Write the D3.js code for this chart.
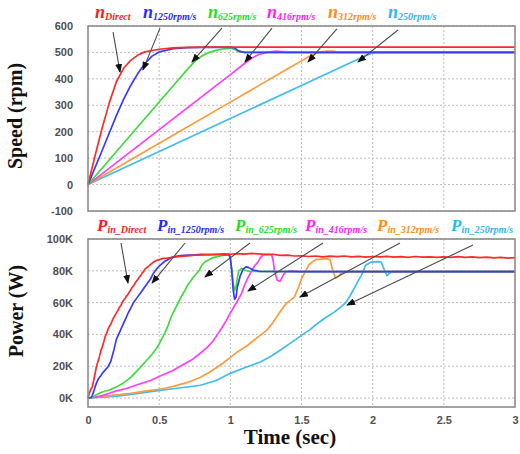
<!DOCTYPE html>
<html><head><meta charset="utf-8">
<script src="https://cdn.jsdelivr.net/npm/d3@7"></script>
<style>body{margin:0;background:#fff}</style></head>
<body>
<svg id="c" width="520" height="454"></svg>
<script>
// ---------- data ----------
const timeTicks = [0, 0.5, 1, 1.5, 2, 2.5, 3];
const timeTickLabels = ["0", "0.5", "1", "1.5", "2", "2.5", "3"];
const speedTicks = [-100, 0, 100, 200, 300, 400, 500, 600];
const powerTicks = [0, 20000, 40000, 60000, 80000, 100000];
const powerTickLabels = ["0K", "20K", "40K", "60K", "80K", "100K"];
const seriesKeys = ["Direct", "1250rpm/s", "625rpm/s", "416rpm/s", "312rpm/s", "250rpm/s"];

// speed [t(s), rpm]
const speedDirect = [[0,0],[0.05,110],[0.1,215],[0.15,310],[0.2,390],[0.25,440],[0.3,470],[0.35,490],[0.4,502],[0.5,512],[0.6,517],[0.7,519],[0.8,520],[1.0,520],[1.5,520],[2,520],[3,520]];
const speed1250 = [[0,0],[0.1,130],[0.2,262],[0.25,322],[0.3,375],[0.35,420],[0.4,458],[0.45,486],[0.5,502],[0.6,514],[0.7,518],[0.8,519],[1.0,520],[1.03,517],[1.06,505],[1.1,500],[1.5,500],[2,500],[3,500]];
const speed625 = [[0,0],[0.2,125],[0.4,250],[0.6,375],[0.7,437],[0.75,466],[0.8,487],[0.85,500],[0.9,508],[0.95,513],[1.0,516],[1.03,512],[1.06,503],[1.1,500],[2,500],[3,500]];
const speed416 = [[0,0],[0.4,166],[0.8,333],[1.0,416],[1.1,458],[1.15,478],[1.2,492],[1.25,499],[1.28,502],[1.32,505],[1.36,503],[1.4,500],[2,500],[3,500]];
const speed312 = [[0,0],[0.5,156],[1.0,312],[1.4,437],[1.5,468],[1.55,484],[1.6,496],[1.63,500],[1.68,505],[1.72,505],[1.76,500],[2,500],[3,500]];
const speed250 = [[0,0],[0.5,125],[1.0,250],[1.5,375],[1.9,475],[1.95,488],[2.0,498],[2.03,500],[2.5,500],[3,500]];

// power [t(s), W]
const powerDirect = [[0,0],[0.01,3000],[0.02,5500],[0.03,7000],[0.04,11000],[0.05,15500],[0.06,20000],[0.07,23000],[0.08,26000],[0.09,29500],[0.1,32000],[0.11,35000],[0.12,38500],[0.13,40500],[0.14,43000],[0.15,45000],[0.16,46500],[0.17,48500],[0.18,50500],[0.19,52000],[0.2,53500],[0.21,55000],[0.22,57000],[0.23,58000],[0.24,60000],[0.25,61500],[0.26,62500],[0.27,64000],[0.28,65000],[0.29,66500],[0.3,68000],[0.31,69500],[0.32,70500],[0.33,72000],[0.34,73500],[0.35,74500],[0.36,76000],[0.37,77000],[0.38,78500],[0.39,79500],[0.4,81000],[0.42,82500],[0.44,84000],[0.46,85500],[0.48,86500],[0.5,87000],[0.53,87800],[0.56,88000],[0.6,88600],[0.65,89000],[0.7,89400],[0.75,89800],[0.8,90000],[0.85,90300],[0.9,90200],[0.95,90600],[1.0,90400],[1.05,90800],[1.1,90500],[1.15,90900],[1.2,90600],[1.25,90200],[1.3,90400],[1.35,89700],[1.4,89800],[1.45,89300],[1.5,89400],[1.55,89000],[1.6,89300],[1.65,88800],[1.7,89200],[1.75,88900],[1.8,89300],[1.85,88700],[1.9,89100],[1.95,88600],[2.0,89000],[2.05,88700],[2.1,89100],[2.15,88600],[2.2,88900],[2.25,88500],[2.3,89000],[2.35,88600],[2.4,88800],[2.45,88400],[2.5,88800],[2.55,88500],[2.6,88900],[2.65,88400],[2.7,88700],[2.75,88300],[2.8,88600],[2.85,88100],[2.9,88500],[2.95,88000],[3.0,88300]];
const power1250 = [[0,0],[0.02,200],[0.03,1500],[0.04,4000],[0.05,7000],[0.06,9500],[0.07,11500],[0.08,13000],[0.09,14000],[0.1,15500],[0.12,17500],[0.14,19500],[0.16,23000],[0.18,29500],[0.2,37000],[0.22,41000],[0.24,45000],[0.26,49000],[0.28,53000],[0.3,56500],[0.32,60000],[0.34,62500],[0.36,65000],[0.38,67500],[0.4,70000],[0.42,72500],[0.44,75000],[0.46,78500],[0.48,81000],[0.5,83000],[0.52,84500],[0.54,86000],[0.56,87000],[0.58,88000],[0.6,88800],[0.65,89500],[0.7,89800],[0.75,90000],[0.8,90300],[0.85,90100],[0.9,90400],[0.95,90200],[0.99,90300],[1.0,88000],[1.01,80000],[1.02,68000],[1.03,62000],[1.04,63500],[1.05,70000],[1.07,77000],[1.09,81000],[1.11,82500],[1.13,82000],[1.16,80500],[1.2,79700],[1.5,79500],[2,79500],[2.5,79500],[3,79500]];
const power625 = [[0,0],[0.03,300],[0.05,1500],[0.08,3000],[0.1,3800],[0.15,5000],[0.2,7000],[0.25,9500],[0.3,13000],[0.35,17500],[0.4,22500],[0.45,27500],[0.48,31000],[0.5,34000],[0.52,37500],[0.54,41000],[0.56,45000],[0.58,50000],[0.6,54000],[0.62,57500],[0.64,61000],[0.66,64500],[0.68,67500],[0.7,71000],[0.72,73500],[0.74,76000],[0.76,78000],[0.78,80000],[0.8,83500],[0.82,85500],[0.84,86500],[0.86,87500],[0.88,88300],[0.9,88800],[0.93,89300],[0.96,89800],[0.99,90200],[1.0,88000],[1.01,81000],[1.02,72000],[1.03,67500],[1.04,70000],[1.05,76000],[1.06,80000],[1.08,81500],[1.1,80500],[1.13,79600],[1.5,79500],[2,79500],[2.5,79500],[3,79500]];
const power416 = [[0,0],[0.05,500],[0.1,1500],[0.15,3000],[0.2,4500],[0.27,6000],[0.35,8500],[0.44,11000],[0.5,13500],[0.6,17500],[0.67,21000],[0.73,24000],[0.78,27500],[0.84,32000],[0.88,36000],[0.91,40000],[0.94,44000],[0.97,48500],[1.0,53500],[1.03,58000],[1.05,61000],[1.08,66000],[1.1,71000],[1.12,75000],[1.15,80000],[1.17,83000],[1.19,85000],[1.21,88000],[1.23,90000],[1.26,90500],[1.29,90000],[1.3,87000],[1.31,80000],[1.33,74000],[1.35,73500],[1.37,77000],[1.39,79500],[1.42,80000],[1.5,79500],[2,79500],[2.5,79500],[3,79500]];
const power312 = [[0,0],[0.05,400],[0.1,1000],[0.2,2000],[0.3,3000],[0.4,4300],[0.5,5500],[0.55,6300],[0.6,7300],[0.7,9800],[0.79,13000],[0.85,16000],[0.9,19000],[0.95,22000],[1.0,25500],[1.05,29000],[1.12,33000],[1.19,38000],[1.26,43000],[1.3,47500],[1.34,53000],[1.38,58000],[1.4,60000],[1.43,62000],[1.45,63500],[1.48,70000],[1.5,75000],[1.53,80000],[1.55,83500],[1.58,86000],[1.6,87000],[1.64,87300],[1.68,87600],[1.7,87000],[1.72,80000],[1.74,75500],[1.76,76500],[1.78,78500],[1.8,79500],[2,79500],[2.5,79500],[3,79500]];
const power250 = [[0,0],[0.1,500],[0.2,1200],[0.3,2200],[0.44,4000],[0.6,5800],[0.79,8000],[0.9,11000],[1.0,15500],[1.1,19000],[1.21,22600],[1.28,26000],[1.35,30000],[1.43,35000],[1.51,40000],[1.56,43000],[1.6,46000],[1.66,50000],[1.73,54000],[1.78,57500],[1.81,60000],[1.84,64000],[1.87,69000],[1.9,74000],[1.92,77000],[1.95,83500],[1.99,85500],[2.03,85800],[2.06,85500],[2.08,81000],[2.1,77000],[2.12,78500],[2.14,79500],[2.5,79500],[3,79500]];

// annotation arrows: [tStart, vStart, tEnd, vEnd]
const speedArrows = [[0.176,577,0.225,426],[0.506,592,0.386,434],[0.941,592,0.731,464],[1.293,592,1.103,464],[1.749,589,1.546,464],[2.178,585,1.897,464]];
const powerArrows = [[0.232,97500,0.281,72300],[0.682,97500,0.45,72300],[1.138,97500,0.822,76100],[1.651,97500,1.124,67300],[2.192,97500,1.489,63500],[2.705,96200,1.82,58500]];

// ---------- drawing ----------
const lineColors = ["#ff2a2a","#3a3aff","#3ddc3d","#ff3cff","#ff9a3c","#3cbcf0"];
const textColors = ["#ff1a1a","#2a2aff","#22e022","#ff22ff","#ff8c1a","#33b5ee"];
const speedSeries = [speedDirect, speed1250, speed625, speed416, speed312, speed250];
const powerSeries = [powerDirect, power1250, power625, power416, power312, power250];

const svg = d3.select("#c");
const defs = svg.append("defs");
defs.append("marker").attr("id","ah").attr("markerUnits","userSpaceOnUse")
  .attr("markerWidth",9).attr("markerHeight",7).attr("refX",8).attr("refY",3.5).attr("orient","auto")
  .append("path").attr("d","M0,0 L9,3.5 L0,7 Z").attr("fill","#111");

const x = d3.scaleLinear().domain([0,3]).range([88,515]);
const ySpeed = d3.scaleLinear().domain([-100,600]).range([211,26]);
const yPower = d3.scaleLinear().domain([-5660,100000]).range([407,239]);

const tickFont = "Liberation Sans, Arial, sans-serif";

function panel(y, yTicks, yLabels, series, arrows, showX, labelPrefix, labelY, labelXs, subPrefix, bigSize) {
  const [y0,y1] = y.range();
  const g = svg.append("g");
  // grid
  g.selectAll(".gx").data(timeTicks.slice(1,-1)).join("line")
    .attr("x1",d=>x(d)).attr("x2",d=>x(d)).attr("y1",y1).attr("y2",y0)
    .attr("stroke","#bdbdbd").attr("stroke-width",1).attr("stroke-dasharray","2,2");
  g.selectAll(".gy").data(yTicks).join("line")
    .attr("x1",x(0)).attr("x2",x(3)).attr("y1",d=>y(d)).attr("y2",d=>y(d))
    .attr("stroke","#bdbdbd").attr("stroke-width",1).attr("stroke-dasharray","2,2");
  // y axis labels
  const ya = d3.axisLeft(y).tickValues(yTicks).tickSize(0).tickPadding(15)
    .tickFormat((d,i)=>yLabels[i]);
  g.append("g").attr("transform",`translate(${x(0)},0)`).call(ya)
    .call(a=>a.select(".domain").remove())
    .selectAll("text").attr("font-family",tickFont).attr("font-weight","bold")
    .attr("font-size",11).attr("fill","#505050");
  if (showX) {
    const xa = d3.axisBottom(x).tickValues(timeTicks).tickSize(0).tickPadding(9)
      .tickFormat((d,i)=>timeTickLabels[i]);
    g.append("g").attr("transform",`translate(0,${y0})`).call(xa)
      .call(a=>a.select(".domain").remove())
      .selectAll("text").attr("font-family",tickFont).attr("font-weight","bold")
      .attr("font-size",11).attr("fill","#505050");
  }
  // lines
  const line = d3.line().x(d=>x(d[0])).y(d=>y(d[1]));
  const order = [5,4,3,2,1,0];
  order.forEach(i=>{
    g.append("path").datum(series[i]).attr("d",line).attr("fill","none")
      .attr("stroke",lineColors[i]).attr("stroke-width",1.7).attr("stroke-linejoin","round");
  });
  // frame
  g.append("rect").attr("x",x(0)).attr("y",y1).attr("width",x(3)-x(0)).attr("height",y0-y1)
    .attr("fill","none").attr("stroke","#8c8c8c").attr("stroke-width",1.6);
  // arrows
  g.selectAll(".ar").data(arrows).join("line")
    .attr("x1",d=>x(d[0])).attr("y1",d=>y(d[1])).attr("x2",d=>x(d[2])).attr("y2",d=>y(d[3]))
    .attr("stroke","#4a4a4a").attr("stroke-width",1.1).attr("marker-end","url(#ah)");
  // series labels
  seriesKeys.forEach((k,i)=>{
    const t = svg.append("text").attr("x",labelXs[i]).attr("y",labelY)
      .attr("font-family","Liberation Serif, Times New Roman, serif")
      .attr("font-style","italic").attr("font-weight","bold").attr("fill",textColors[i]);
    t.append("tspan").attr("font-size",bigSize).text(labelPrefix);
    t.append("tspan").attr("font-size",10).attr("dy",2).text(subPrefix + k);
  });
}

panel(ySpeed, speedTicks, speedTicks.map(String), speedSeries, speedArrows, false,
  "n", 18, [95,143,208,267,328,388], "", 18);
panel(yPower, powerTicks, powerTickLabels, powerSeries, powerArrows, true,
  "P", 231, [97,157,235,305,377,451], "in_", 17);

// axis titles
svg.append("text").attr("transform","translate(22,116) rotate(-90)").attr("text-anchor","middle")
  .attr("font-family","Liberation Serif, Times New Roman, serif").attr("font-weight","bold")
  .attr("font-size",20).attr("fill","#111").text("Speed (rpm)");
svg.append("text").attr("transform","translate(23,311) rotate(-90)").attr("text-anchor","middle")
  .attr("font-family","Liberation Serif, Times New Roman, serif").attr("font-weight","bold")
  .attr("font-size",20).attr("fill","#111").text("Power (W)");
svg.append("text").attr("x",290).attr("y",444).attr("text-anchor","middle")
  .attr("font-family","Liberation Serif, Times New Roman, serif").attr("font-weight","bold")
  .attr("font-size",21).attr("fill","#111").text("Time (sec)");
</script>
</body></html>
